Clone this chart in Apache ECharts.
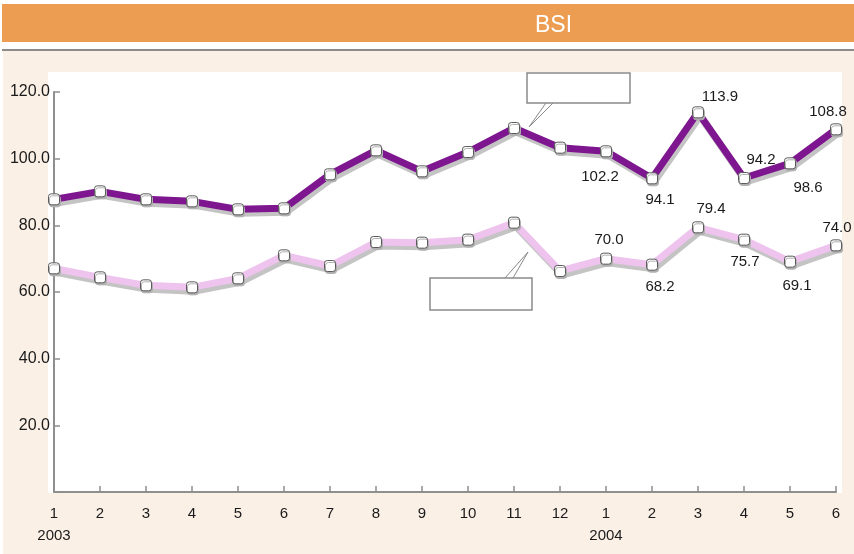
<!DOCTYPE html>
<html>
<head>
<meta charset="utf-8">
<title>BSI</title>
<script src="https://cdn.jsdelivr.net/npm/echarts@6/dist/echarts.min.js"></script>
<style>
  html, body { margin: 0; padding: 0; background: #fff; }
  #bsiChart { width: 854px; height: 554px; }
</style>
</head>
<body>
<div id="bsiChart"></div>
<script>
// months on the x axis (2003/1 .. 2004/6)
var months = ['1', '2', '3', '4', '5', '6', '7', '8', '9', '10', '11', '12', '1', '2', '3', '4', '5', '6'];
// year written under the first month of each year
var yearAt = { 0: '2003', 12: '2004' };

// upper (dark purple) line
var upperValues = [87.8, 90.2, 87.8, 87.2, 84.8, 85.1, 95.3, 102.5, 96.2, 102.0, 109.2, 103.3, 102.2, 94.1, 113.9, 94.2, 98.6, 108.8];
// lower (light pink) line
var lowerValues = [67.1, 64.4, 62.0, 61.4, 64.1, 71.0, 67.8, 75.0, 74.8, 75.7, 80.8, 66.3, 70.0, 68.2, 79.4, 75.7, 69.1, 74.0];

var yTicks = [20, 40, 60, 80, 100, 120];

// where the value labels sit (only 2004 points are labelled)
var upperLabelPlace = {
  12: ['bottom', [-6, 7]],
  13: ['bottom', [8, 3]],
  14: ['top', [22, 3]],
  15: ['top', [17, 0]],
  16: ['bottom', [18, 6]],
  17: ['top', [-8, 1]]
};
var lowerLabelPlace = {
  12: ['top', [3, 0]],
  13: ['bottom', [8, 4]],
  14: ['top', [13, 0]],
  15: ['bottom', [1, 4]],
  16: ['bottom', [7, 6]],
  17: ['top', [1, 1]]
};

function withLabels(values, place) {
  return values.map(function (v, i) {
    var p = place[i];
    if (!p) return { value: v };
    return {
      value: v,
      label: {
        show: true,
        position: p[0],
        offset: p[1],
        formatter: function (param) { return param.value.toFixed(1); }
      }
    };
  });
}

var mychart = echarts.init(document.getElementById('bsiChart'));

var option = {
  backgroundColor: '#ffffff',
  animation: false,
  title: {
    text: 'BSI',
    left: 530,
    top: 9,
    textStyle: {
      color: '#ffffff',
      fontFamily: '"Liberation Sans Narrow", "Liberation Sans", sans-serif',
      fontWeight: 'normal',
      fontSize: 23
    }
  },
  graphic: [
    // orange header band
    { type: 'rect', z: -10, shape: { x: 2, y: 4, width: 852, height: 38 }, style: { fill: '#ec9d52' } },
    // thin grey rule under the header
    { type: 'rect', z: -10, shape: { x: 2, y: 49, width: 852, height: 2 }, style: { fill: '#8c8c8c' } },
    // beige panel
    { type: 'rect', z: -10, shape: { x: 3, y: 51, width: 851, height: 503 }, style: { fill: '#faf0e6' } },
    // white plot background
    { type: 'rect', z: -9, shape: { x: 48, y: 72, width: 794, height: 421 }, style: { fill: '#ffffff' } },
    // empty callout boxes
    { type: 'rect', z: 5, shape: { x: 527, y: 73, width: 103, height: 30 }, style: { fill: '#ffffff', stroke: '#8a8a8a', lineWidth: 1.5 } },
    { type: 'polyline', z: 5, shape: { points: [[546, 103], [529, 127], [553, 103]] }, style: { fill: null, stroke: '#8a8a8a', lineWidth: 1 } },
    { type: 'rect', z: 5, shape: { x: 430, y: 278, width: 102, height: 32 }, style: { fill: '#ffffff', stroke: '#8a8a8a', lineWidth: 1.5 } },
    { type: 'polyline', z: 5, shape: { points: [[505, 278], [528, 252], [513, 278]] }, style: { fill: null, stroke: '#8a8a8a', lineWidth: 1 } }
  ],
  grid: {
    left: 54,
    right: 18,
    top: 92,
    bottom: 62
  },
  xAxis: {
    type: 'category',
    boundaryGap: false,
    data: months,
    axisLine: {
      lineStyle: { color: '#8f8f8f', width: 2 }
    },
    axisTick: {
      inside: true,
      length: 6,
      interval: 0,
      lineStyle: { color: '#8f8f8f', width: 1.5 }
    },
    axisLabel: {
      interval: 0,
      margin: 11,
      color: '#1a1a1a',
      fontFamily: '"Liberation Sans", Arial, sans-serif',
      fontSize: 15,
      lineHeight: 22,
      formatter: function (value, index) {
        return yearAt[index] ? value + '\n' + yearAt[index] : value;
      }
    }
  },
  yAxis: {
    type: 'value',
    min: 0,
    max: 120,
    interval: 20,
    splitLine: { show: false },
    axisLine: {
      show: true,
      lineStyle: { color: '#8f8f8f', width: 2 }
    },
    axisTick: {
      show: true,
      inside: true,
      length: 6,
      lineStyle: { color: '#8f8f8f', width: 1.5 }
    },
    axisLabel: {
      margin: 4,
      color: '#1a1a1a',
      fontFamily: '"Liberation Sans", Arial, sans-serif',
      fontSize: 16,
      formatter: function (v) {
        return yTicks.indexOf(v) >= 0 ? v.toFixed(1) : '';
      }
    }
  },
  series: [
    {
      name: 'upper',
      type: 'line',
      data: withLabels(upperValues, upperLabelPlace),
      symbol: 'roundRect',
      symbolSize: 11,
      z: 3,
      lineStyle: {
        color: '#7e168f',
        width: 7,
        shadowColor: '#c4c4c4',
        shadowOffsetX: 2,
        shadowOffsetY: 4,
        shadowBlur: 0
      },
      itemStyle: {
        color: '#ffffff',
        borderColor: '#5a5a5a',
        borderWidth: 1,
        shadowColor: '#b0b0b0',
        shadowOffsetX: 1,
        shadowOffsetY: 2,
        shadowBlur: 0
      },
      label: {
        color: '#1a1a1a',
        fontFamily: '"Liberation Sans", Arial, sans-serif',
        fontSize: 15
      }
    },
    {
      name: 'lower',
      type: 'line',
      data: withLabels(lowerValues, lowerLabelPlace),
      symbol: 'roundRect',
      symbolSize: 11,
      z: 3,
      lineStyle: {
        color: '#eec3ee',
        width: 7,
        shadowColor: '#c4c4c4',
        shadowOffsetX: 2,
        shadowOffsetY: 4,
        shadowBlur: 0
      },
      itemStyle: {
        color: '#ffffff',
        borderColor: '#5a5a5a',
        borderWidth: 1,
        shadowColor: '#b0b0b0',
        shadowOffsetX: 1,
        shadowOffsetY: 2,
        shadowBlur: 0
      },
      label: {
        color: '#1a1a1a',
        fontFamily: '"Liberation Sans", Arial, sans-serif',
        fontSize: 15
      }
    }
  ]
};

mychart.setOption(option);
</script>
</body>
</html>
